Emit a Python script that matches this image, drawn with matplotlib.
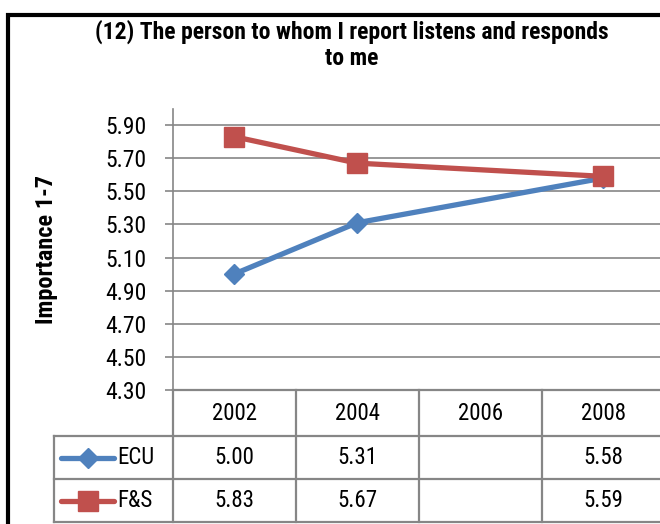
import matplotlib
matplotlib.use("Agg")

import matplotlib.pyplot as plt
import numpy as np
from matplotlib.lines import Line2D
from matplotlib.patches import Rectangle

# data
years = ["2002", "2004", "2006", "2008"]
ecuValues = [5.00, 5.31, np.nan, 5.58]
fsValues = [5.83, 5.67, np.nan, 5.59]
seriesNames = ["ECU", "F&S"]
yTicks = [4.30, 4.50, 4.70, 4.90, 5.10, 5.30, 5.50, 5.70, 5.90]
titleText = "(12) The person to whom I report listens and responds\nto me"
yLabel = "Importance 1-7"

plt.rcParams["font.family"] = ["Roboto Condensed", "DejaVu Sans"]

W, H = 660, 524
blue = "#4F81BD"
red = "#C0504D"
grey = "#868686"
fsz = 16.5


def fx(px):
    return px / W


def fy(py):
    # pixel rows counted from the top
    return 1 - py / H


fig = plt.figure(figsize=(W / 100, H / 100), dpi=100)

# chart area frame (cut off on the right and bottom)
fig.add_artist(Rectangle((fx(7.5), fy(540)), 1.2, fy(14.5) - fy(540),
                         transform=fig.transFigure, fill=False,
                         edgecolor="black", linewidth=3))

# plot area
left, right, top, bottom = 172.5, 665, 108.5, 390
ax = fig.add_axes([fx(left), fy(bottom), fx(right - left), fy(top) - fy(bottom)])
ax.set_xlim(-0.5, len(years) - 0.5)
ax.set_ylim(4.30, 6.0)
ax.set_yticks(yTicks)
ax.set_yticklabels([f"{v:.2f}" for v in yTicks], fontsize=17)
ax.tick_params(axis="y", direction="out", length=5.5, width=1.2, color=grey, pad=13)
ax.set_xticks([])
ax.grid(axis="y", color=grey, linewidth=1.2)
for side in ["top", "right", "bottom"]:
    ax.spines[side].set_visible(False)
ax.spines["left"].set_color(grey)
ax.spines["left"].set_linewidth(1.2)

xs = np.arange(len(years))
ecu = np.array(ecuValues)
fs = np.array(fsValues)
okE = ~np.isnan(ecu)
okF = ~np.isnan(fs)
ax.plot(xs[okE], ecu[okE], color=blue, linewidth=3.8, marker="D", markersize=10,
        zorder=3, clip_on=False)
ax.plot(xs[okF], fs[okF], color=red, linewidth=3.8, marker="s", markersize=14,
        zorder=4, clip_on=False)

ax.set_ylabel(yLabel, fontsize=17.5, fontweight="bold")
ax.yaxis.set_label_coords(fx(58 - left) / fx(right - left), 0.5)

fig.text(fx(352), fy(45), titleText, ha="center", va="center", fontsize=17,
         fontweight="bold", linespacing=1.15)

# data table under the axis
colW = 123.1
rowTop, rowA, rowB, rowC = 390, 436, 479, 522
legLeft = 54
lineKw = dict(color=grey, linewidth=1.6, transform=fig.transFigure)
fig.add_artist(Line2D([fx(left), 1.0], [fy(rowTop), fy(rowTop)], **lineKw))
for yy in [rowA, rowB, rowC]:
    fig.add_artist(Line2D([fx(legLeft), 1.0], [fy(yy), fy(yy)], **lineKw))
fig.add_artist(Line2D([fx(legLeft), fx(legLeft)], [fy(rowA), fy(rowC)], **lineKw))
for i in range(len(years) + 1):
    xx = left + i * colW
    fig.add_artist(Line2D([fx(xx), fx(xx)], [fy(rowTop), fy(rowC)], **lineKw))

for i, yr in enumerate(years):
    cx = left + (i + 0.5) * colW
    fig.text(fx(cx), fy((rowTop + rowA) / 2), yr, ha="center", va="center", fontsize=fsz)
    for vals, r0, r1 in [(ecuValues, rowA, rowB), (fsValues, rowB, rowC)]:
        if not np.isnan(vals[i]):
            fig.text(fx(cx), fy((r0 + r1) / 2), f"{vals[i]:.2f}", ha="center",
                     va="center", fontsize=fsz)

# legend keys inside the table
for name, color, marker, ms, r0, r1 in [(seriesNames[0], blue, "D", 10, rowA, rowB),
                                        (seriesNames[1], red, "s", 14, rowB, rowC)]:
    cy = fy((r0 + r1) / 2)
    fig.add_artist(Line2D([fx(61), fx(114)], [cy, cy], color=color, linewidth=3.8,
                          solid_capstyle="round", transform=fig.transFigure))
    fig.add_artist(Line2D([fx(87.5)], [cy], color=color, marker=marker, markersize=ms,
                          transform=fig.transFigure))
    fig.text(fx(117), cy, name, ha="left", va="center", fontsize=fsz)

fig.savefig("out.png", dpi=100)
